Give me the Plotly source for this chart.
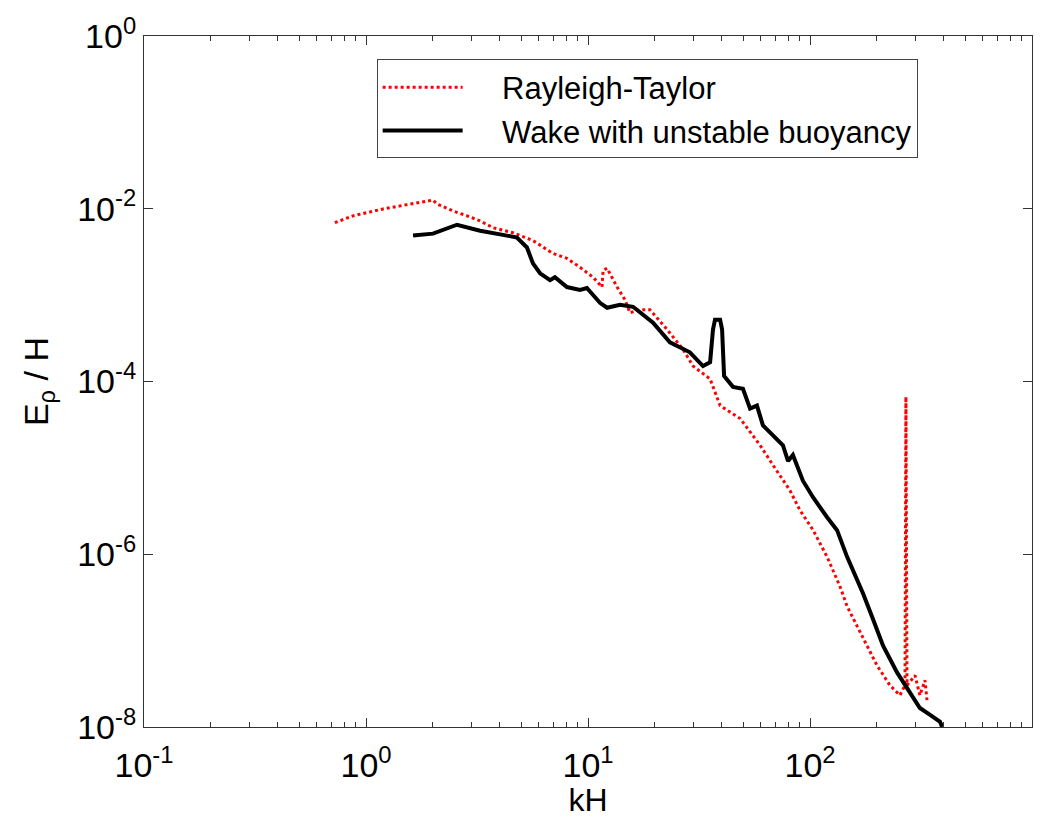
import plotly.graph_objects as go

# Rayleigh-Taylor spectrum (kH, E_rho/H)
rt_k = [0.724, 0.873, 1.194, 1.578, 2.004, 2.089, 2.466, 2.851, 3.266, 3.733,
        4.592, 5.649, 6.950, 8.035, 9.204, 10.54, 11.56, 11.70, 12.19, 13.52,
        14.69, 15.45, 17.14, 19.01, 22.70, 26.79, 29.72, 35.48, 39.36, 48.42,
        59.57, 68.08, 81.28, 90.16, 103.3, 119.4, 136.5, 146.9, 162.9, 180.7,
        200.4, 229.1, 254.1, 267.9, 270.4, 273.5, 297.2, 312.6, 329.6, 336.5]
rt_E = [6.89e-3, 8.28e-3, 9.95e-3, 1.135e-2, 1.262e-2, 1.135e-2, 9.44e-3, 8.28e-3, 7.24e-3, 6.03e-3,
        5.28e-3, 4.29e-3, 3.04e-3, 2.67e-3, 2.10e-3, 1.61e-3, 1.24e-3, 1.94e-3, 2.05e-3, 1.24e-3,
        8.81e-4, 6.25e-4, 6.78e-4, 6.78e-4, 4.00e-4, 2.36e-4, 1.51e-4, 1.07e-4, 5.26e-5, 3.73e-5,
        1.83e-5, 1.08e-5, 5.46e-6, 3.22e-6, 1.90e-6, 9.33e-7, 4.24e-7, 2.50e-7, 1.48e-7, 8.73e-8,
        5.15e-8, 3.04e-8, 2.33e-8, 3.04e-8, 6.67e-5, 3.04e-8, 3.95e-8, 2.33e-8, 3.47e-8, 2.05e-8]

# Wake with unstable buoyancy
wk_k = [1.629, 2.004, 2.570, 3.266, 4.315, 4.786, 5.309, 5.649, 6.081, 6.745,
        7.096, 8.035, 9.204, 9.886, 11.32, 12.19, 13.93, 15.96, 19.63, 23.39,
        28.77, 32.96, 35.48, 36.56, 37.33, 39.36, 40.18, 41.02, 44.98, 49.89,
        53.70, 57.68, 61.38, 68.08, 75.51, 79.62, 83.75, 92.90, 103.3, 119.4,
        132.4, 146.9, 162.9, 173.4, 192.3, 213.3, 246.6, 273.5, 312.6, 347.5,
        385.5, 393.6]
wk_E = [4.89e-3, 5.15e-3, 6.53e-3, 5.57e-3, 4.89e-3, 4.63e-3, 3.56e-3, 2.33e-3, 1.79e-3, 1.49e-3,
        1.61e-3, 1.24e-3, 1.15e-3, 1.21e-3, 8.15e-4, 7.14e-4, 7.73e-4, 7.33e-4, 4.81e-4, 2.84e-4,
        2.18e-4, 1.51e-4, 1.67e-4, 4.00e-4, 5.20e-4, 5.20e-4, 4.00e-4, 1.16e-4, 8.67e-5, 8.22e-5,
        4.85e-5, 5.26e-5, 3.10e-5, 2.39e-5, 1.83e-5, 1.20e-5, 1.41e-5, 7.10e-6, 4.54e-6, 2.68e-6,
        1.90e-6, 9.33e-7, 5.09e-7, 3.52e-7, 1.77e-7, 8.73e-8, 4.29e-8, 2.81e-8, 1.66e-8, 1.38e-8,
        1.15e-8, 1.00e-8]

x_major = [0.1, 1, 10, 100, 1000]
x_major_text = ["10<sup>-1</sup>", "10<sup>0</sup>", "10<sup>1</sup>", "10<sup>2</sup>", "10<sup>3</sup>"]
y_major = [1e-8, 1e-6, 1e-4, 1e-2, 1]
y_major_text = ["10<sup>-8</sup>", "10<sup>-6</sup>", "10<sup>-4</sup>", "10<sup>-2</sup>", "10<sup>0</sup>"]
x_minor = [m * d for d in [0.1, 1, 10, 100] for m in range(2, 10)]

legend_names = ["Rayleigh-Taylor", "Wake with unstable buoyancy"]
PAD = "\u00a0" * 4

FONT = "Liberation Sans, Arial, sans-serif"

fig = go.Figure()
fig.add_trace(go.Scatter(x=rt_k, y=rt_E, mode="lines", name=PAD + legend_names[0],
                         line=dict(color="red", width=3, dash="dot")))
fig.add_trace(go.Scatter(x=wk_k, y=wk_E, mode="lines", name=PAD + legend_names[1],
                         line=dict(color="black", width=4)))

fig.update_layout(
    width=1056, height=818,
    margin=dict(l=144, r=24, t=33, b=86),
    plot_bgcolor="white", paper_bgcolor="white",
    font=dict(family=FONT, color="black"),
    showlegend=True,
    legend=dict(x=0.262, y=0.966, xanchor="left", yanchor="top",
                bgcolor="white", bordercolor="#444", borderwidth=1,
                font=dict(size=31, family=FONT), itemwidth=80,
                tracegroupgap=0),
)
fig.update_xaxes(type="log", range=[-1, 3], tickvals=x_major, ticktext=x_major_text,
                 ticks="inside", ticklen=9, tickcolor="#333", showline=True, linecolor="#333",
                 linewidth=1, mirror="ticks", showgrid=False, zeroline=False,
                 tickfont=dict(size=34, family=FONT), ticklabelstandoff=8,
                 minor=dict(tickvals=x_minor, ticks="inside", ticklen=5, tickcolor="#333", showgrid=False),
                 title=dict(text="kH", font=dict(size=32, family=FONT), standoff=0))
fig.update_yaxes(type="log", range=[-8, 0], tickvals=y_major, ticktext=y_major_text,
                 ticks="inside", ticklen=9, tickcolor="#333", showline=True, linecolor="#333",
                 linewidth=1, mirror="ticks", showgrid=False, zeroline=False,
                 tickfont=dict(size=34, family=FONT),
                 title=dict(text="E<sub>ρ</sub> / H", font=dict(size=34, family=FONT), standoff=18))

fig.write_html("out.html")
